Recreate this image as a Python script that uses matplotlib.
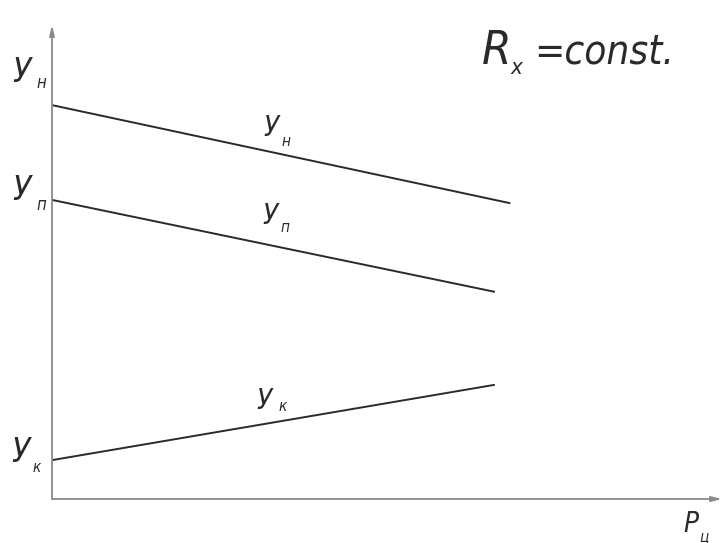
import matplotlib
matplotlib.use("Agg")
import matplotlib.pyplot as plt

# P from 0 to 1 along the axis, levels in fractions of the y axis
p_start = [0.0, 0.0, 0.0]
p_end = [0.684, 0.661, 0.661]
y_start = [0.831, 0.631, 0.082]
y_end = [0.624, 0.437, 0.241]
subs = ["н", "п", "к"]

W, H = 725, 543
fam = ["DejaVu Sans"]

fig = plt.figure(figsize=(W / 100, H / 100), dpi=100)
ax = fig.add_axes([52 / W, 44 / H, 670 / W, 474 / H])
ax.set_xlim(0, 1)
ax.set_ylim(0, 1)
ax.axis("off")

# axes with arrows
ax.annotate("", xy=(1.0, 0), xytext=(0, 0), xycoords="axes fraction",
            arrowprops=dict(arrowstyle="-|>,head_length=0.6,head_width=0.15",
                            color="#8a8a8a", lw=1.3, shrinkA=0, shrinkB=0))
ax.annotate("", xy=(0, 1.0), xytext=(0, 0), xycoords="axes fraction",
            arrowprops=dict(arrowstyle="-|>,head_length=0.6,head_width=0.15",
                            color="#8a8a8a", lw=1.3, shrinkA=0, shrinkB=0))

for x0, x1, y0, y1 in zip(p_start, p_end, y_start, y_end):
    ax.plot([x0, x1], [y0, y1], color="#2a2a2a", lw=1.4, solid_capstyle="butt")


def txt(px, py, s, size):
    fig.text(px / W, 1 - py / H, s, fontsize=size, family=fam,
             style="italic", stretch="condensed", weight="light",
             color="#2a2a2a", ha="left", va="baseline")


def label(px, py, main, sub, size, sub_size, dx, dy):
    # main letter placed by its lower-left corner in pixel coordinates
    txt(px, py, main, size)
    txt(px + dx, py + dy, sub, sub_size)


# left axis labels
label(12, 82, "У", subs[0], 24, 12, 24, 6)
label(12, 200, "У", subs[1], 24, 12, 24, 10)
label(11, 462, "У", subs[2], 24, 11, 21, 10)

# line labels
label(263, 136, "У", subs[0], 20, 11, 18, 10)
label(262, 224, "У", subs[1], 20, 11, 18, 8)
label(256, 409, "У", subs[2], 20, 11, 22, 2)

# title and axis name
label(482, 64, "R", "x", 34, 16, 29, 10)
txt(534, 64, "=const.", 29)
label(683, 532, "P", "ц", 20, 11, 16, 9)

fig.savefig("out.png", dpi=100, facecolor="white")
